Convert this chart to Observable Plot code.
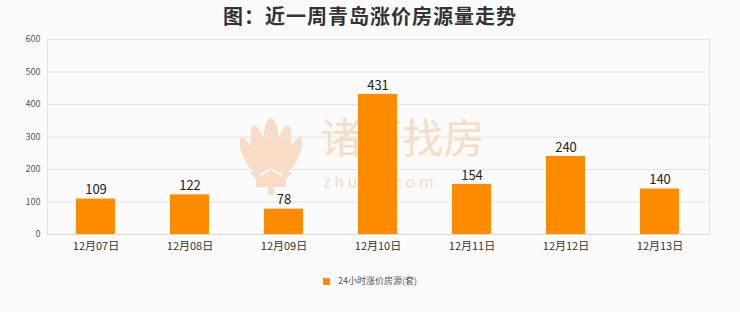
<!DOCTYPE html>
<html><head><meta charset="utf-8">
<script src="https://cdn.jsdelivr.net/npm/d3@7"></script>
<script src="https://cdn.jsdelivr.net/npm/@observablehq/plot@0.6"></script>
<style>
body{margin:0;background:#fbfbfb;font-family:"Noto Sans CJK SC",sans-serif;width:740px;height:312px;overflow:hidden;position:relative}
#title{height:30px;line-height:32px;text-align:center;font-size:20px;font-weight:bold;color:#333;letter-spacing:1px}
#chart{position:relative;z-index:1}
#legend{position:absolute;top:274px;left:0;width:740px;text-align:center;font-size:9px;color:#555}
#legend span.sw{display:inline-block;width:7px;height:7px;background:#ff8c00;margin-right:8px;vertical-align:-1px}
#logo{position:absolute;left:240px;top:117px;z-index:0}
</style></head>
<body>
<svg id="logo" width="62" height="78" viewBox="0 0 62 78">
  <g fill="#f8dcc4">
    <ellipse cx="31" cy="28" rx="8" ry="27"/>
    <ellipse cx="19" cy="32" rx="7" ry="24" transform="rotate(-12 19 32)"/>
    <ellipse cx="43" cy="32" rx="7" ry="24" transform="rotate(12 43 32)"/>
    <ellipse cx="9" cy="38" rx="6" ry="19" transform="rotate(-25 9 38)"/>
    <ellipse cx="53" cy="38" rx="6" ry="19" transform="rotate(25 53 38)"/>
    <path d="M10 56 L31 48 L52 56 L46 62 L46 70 L16 70 L16 62 Z"/>
    <rect x="28" y="70" width="6" height="8"/>
  </g>
  <path d="M20 58 L31 52 L42 58" stroke="#fbfbfb" stroke-width="2" fill="none"/>
</svg>
<div id="title">图：近一周青岛涨价房源量走势</div>
<div id="chart"></div>
<div id="legend"><span class="sw"></span>24小时涨价房源(套)</div>
<script>
const dates = ["12月07日","12月08日","12月09日","12月10日","12月11日","12月12日","12月13日"];
const counts = [109,122,78,431,154,240,140];
const yTicks = [0,100,200,300,400,500,600];
const data = dates.map((d,i)=>({date:d,value:counts[i]}));

const chart = Plot.plot({
  width:740, height:232,
  marginTop:9, marginBottom:28, marginLeft:47, marginRight:31,
  style:{background:"transparent", fontFamily:"'Noto Sans CJK SC',sans-serif", color:"#333"},
  x:{domain:dates, paddingInner:0.585, paddingOuter:0.2925, label:null, tickSize:0, tickPadding:8},
  y:{domain:[0,600], ticks:yTicks, label:null, tickSize:0, tickPadding:7},
  marks:[
    Plot.gridY(yTicks,{stroke:"#e4e4e4", strokeOpacity:1}),
    Plot.frame({stroke:"#e4e4e4"}),
    Plot.text(["诸葛找房"],{frameAnchor:"middle", dx:24, dy:3, text:d=>d, fontSize:41, fill:"#f8dcc4"}),
    Plot.text(["z h u g e . c o m"],{frameAnchor:"middle", dx:0, dy:46, text:d=>d, fontSize:16, fill:"#f8dcc4"}),
    Plot.barY(data,{x:"date", y:"value", fill:"#ff8c00"}),
    Plot.text(data,{x:"date", y:"value", text:d=>String(d.value), dy:-9, fontSize:13, fill:"#222"}),
    Plot.axisX({tickSize:0, tickPadding:8, fontSize:11, fill:"#333"}),
    Plot.axisY(yTicks,{tickSize:0, tickPadding:7, fontSize:9, fill:"#555"}),
    Plot.ruleY([0],{stroke:"#d8d8d8"})
  ]
});
document.getElementById("chart").appendChild(chart);
</script>
</body></html>
